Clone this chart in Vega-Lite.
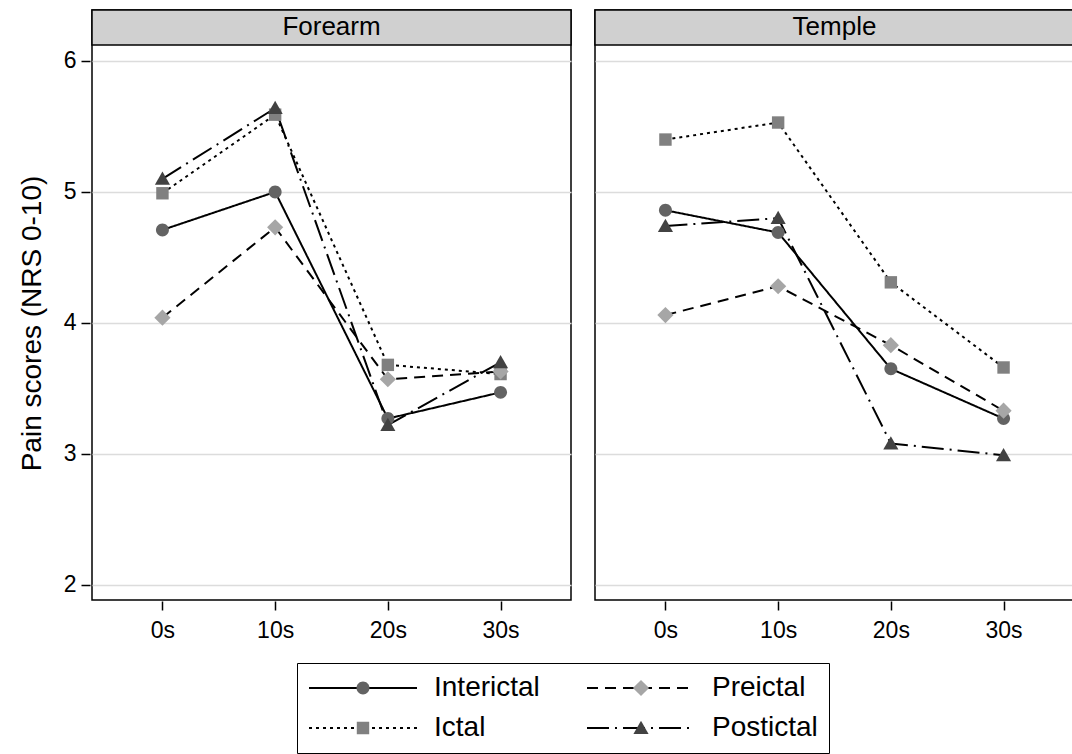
{
  "$schema": "https://vega.github.io/schema/vega-lite/v6.json",
  "padding": {"left": 18, "top": 8, "right": 0, "bottom": 0},
  "config": {
    "font": "Liberation Sans",
    "view": {"stroke": "black", "strokeWidth": 1.5}
  },
  "data": {
    "values": [
      {"site": "Forearm", "time": "0s", "status": "Interictal", "score": 4.71},
      {"site": "Forearm", "time": "10s", "status": "Interictal", "score": 5.0},
      {"site": "Forearm", "time": "20s", "status": "Interictal", "score": 3.27},
      {"site": "Forearm", "time": "30s", "status": "Interictal", "score": 3.47},
      {"site": "Temple", "time": "0s", "status": "Interictal", "score": 4.86},
      {"site": "Temple", "time": "10s", "status": "Interictal", "score": 4.69},
      {"site": "Temple", "time": "20s", "status": "Interictal", "score": 3.65},
      {"site": "Temple", "time": "30s", "status": "Interictal", "score": 3.27},
      {"site": "Forearm", "time": "0s", "status": "Ictal", "score": 4.99},
      {"site": "Forearm", "time": "10s", "status": "Ictal", "score": 5.59},
      {"site": "Forearm", "time": "20s", "status": "Ictal", "score": 3.68},
      {"site": "Forearm", "time": "30s", "status": "Ictal", "score": 3.61},
      {"site": "Temple", "time": "0s", "status": "Ictal", "score": 5.4},
      {"site": "Temple", "time": "10s", "status": "Ictal", "score": 5.53},
      {"site": "Temple", "time": "20s", "status": "Ictal", "score": 4.31},
      {"site": "Temple", "time": "30s", "status": "Ictal", "score": 3.66},
      {"site": "Forearm", "time": "0s", "status": "Preictal", "score": 4.04},
      {"site": "Forearm", "time": "10s", "status": "Preictal", "score": 4.73},
      {"site": "Forearm", "time": "20s", "status": "Preictal", "score": 3.57},
      {"site": "Forearm", "time": "30s", "status": "Preictal", "score": 3.63},
      {"site": "Temple", "time": "0s", "status": "Preictal", "score": 4.06},
      {"site": "Temple", "time": "10s", "status": "Preictal", "score": 4.28},
      {"site": "Temple", "time": "20s", "status": "Preictal", "score": 3.83},
      {"site": "Temple", "time": "30s", "status": "Preictal", "score": 3.33},
      {"site": "Forearm", "time": "0s", "status": "Postictal", "score": 5.1},
      {"site": "Forearm", "time": "10s", "status": "Postictal", "score": 5.64},
      {"site": "Forearm", "time": "20s", "status": "Postictal", "score": 3.22},
      {"site": "Forearm", "time": "30s", "status": "Postictal", "score": 3.7},
      {"site": "Temple", "time": "0s", "status": "Postictal", "score": 4.74},
      {"site": "Temple", "time": "10s", "status": "Postictal", "score": 4.8},
      {"site": "Temple", "time": "20s", "status": "Postictal", "score": 3.08},
      {"site": "Temple", "time": "30s", "status": "Postictal", "score": 2.99}
    ]
  },
  "facet": {
    "column": {"field": "site", "type": "nominal", "header": {"title": null, "labels": false}}
  },
  "spacing": 20,
  "spec": {
    "width": 479,
    "height": 590,
    "layer": [
      {
        "transform": [{"filter": "datum.time === '0s' && datum.status === 'Interictal'"}],
        "mark": {"type": "rect", "fill": "#d0d0d0", "stroke": "black", "strokeWidth": 1.5},
        "encoding": {
          "y": {"datum": 6.122, "type": "quantitative"},
          "y2": {"datum": 6.389}
        }
      },
      {
        "transform": [{"filter": "datum.time === '0s' && datum.status === 'Interictal'"}],
        "mark": {"type": "text", "fontSize": 26, "color": "black", "baseline": "middle", "align": "center"},
        "encoding": {
          "y": {"datum": 6.258, "type": "quantitative"},
          "text": {"field": "site", "type": "nominal"}
        }
      },
      {
        "mark": {"type": "line", "color": "black", "strokeWidth": 2},
        "encoding": {
          "x": {
            "field": "time", "type": "ordinal",
            "scale": {"type": "point", "padding": 0.625},
            "axis": {"title": null, "domain": false, "grid": false, "labelAngle": 0, "tickSize": 9, "tickWidth": 1.5, "tickColor": "black", "labelFontSize": 23, "labelColor": "black", "labelPadding": 9}
          },
          "y": {
            "field": "score", "type": "quantitative",
            "scale": {"domain": [1.885, 6.389], "nice": false, "zero": false},
            "axis": {"values": [2, 3, 4, 5, 6], "format": "d", "title": "Pain scores (NRS 0-10)", "domain": false, "grid": true, "gridColor": "#dcdcdc", "gridWidth": 1.5, "tickSize": 9, "tickWidth": 1.5, "tickColor": "black", "labelFontSize": 23, "labelColor": "black", "labelPadding": 5, "titleFontSize": 28, "titleFontWeight": "normal", "titleColor": "black", "titlePadding": 17, "titleY": 313}
          },
          "strokeDash": {
            "field": "status", "type": "nominal",
            "scale": {"domain": ["Interictal", "Ictal", "Preictal", "Postictal"], "range": [[1, 0], [3, 4], [11, 7], [22, 6, 2, 6]]},
            "legend": {"orient": "none", "legendX": 205, "legendY": 653, "columns": 2, "title": null, "symbolType": "stroke", "symbolSize": 11664, "symbolStrokeWidth": 2, "symbolStrokeColor": "black", "labelFontSize": 28, "labelColor": "black", "labelOffset": 16, "clipHeight": 28, "rowPadding": 12, "columnPadding": 46, "padding": 11, "strokeColor": "black"}
          }
        }
      },
      {
        "mark": {"type": "point", "filled": true, "size": 11664, "opacity": 1, "strokeWidth": 0},
        "encoding": {
          "x": {"field": "time", "type": "ordinal"},
          "y": {"field": "score", "type": "quantitative"},
          "shape": {
            "field": "status", "type": "nominal", "sort": null,
            "scale": {"range": [
              "M-1,0M1,0M0.12,0A0.12,0.12,0,1,1,-0.12,0A0.12,0.12,0,1,1,0.12,0Z",
              "M-1,0M1,0M-0.115,-0.115L0.115,-0.115L0.115,0.115L-0.115,0.115Z",
              "M-1,0M1,0M0,-0.15L0.15,0L0,0.15L-0.15,0Z",
              "M-1,0M1,0M0,-0.135L0.14,0.11L-0.14,0.11Z"
            ]},
            "legend": {"orient": "none", "legendX": 205, "legendY": 653, "columns": 2, "title": null, "symbolSize": 11664, "symbolStrokeWidth": 2, "symbolStrokeColor": "transparent", "symbolOpacity": 1, "labelFontSize": 28, "labelOffset": 16, "labelOpacity": 0, "clipHeight": 28, "rowPadding": 12, "columnPadding": 46, "padding": 11}
          },
          "color": {
            "field": "status", "type": "nominal", "sort": null,
            "scale": {"range": ["#636363", "#808080", "#a6a6a6", "#424242"]},
            "legend": {"orient": "none", "legendX": 205, "legendY": 653, "columns": 2, "title": null, "symbolSize": 11664, "symbolStrokeWidth": 2, "symbolStrokeColor": "transparent", "symbolOpacity": 1, "labelFontSize": 28, "labelOffset": 16, "labelOpacity": 0, "clipHeight": 28, "rowPadding": 12, "columnPadding": 46, "padding": 11}
          }
        }
      }
    ]
  }
}
